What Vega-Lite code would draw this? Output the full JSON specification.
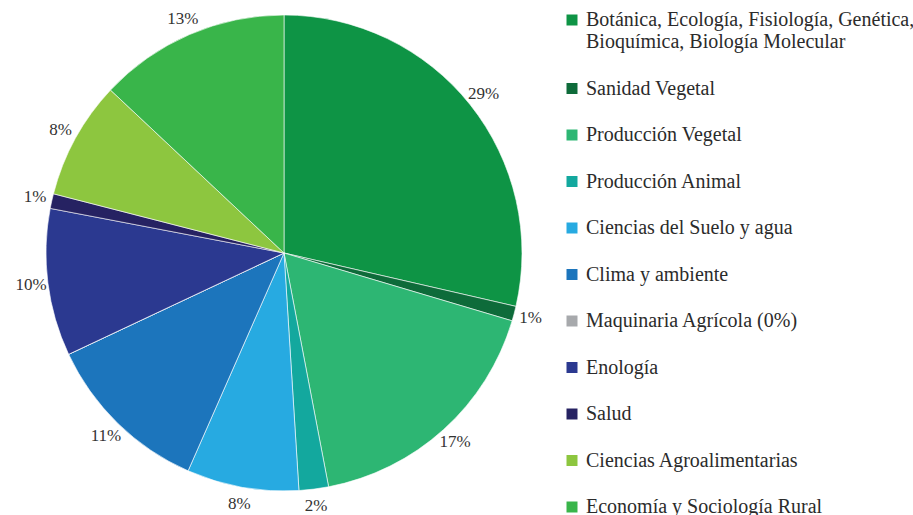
{
  "$schema": "https://vega.github.io/schema/vega-lite/v6.json",
  "width": 568,
  "height": 506,
  "padding": 0,
  "background": "white",
  "config": {"view": {"stroke": null}},
  "data": {
    "values": [
      {"k": 1, "cat": "Botánica, Ecología, Fisiología, Genética, Bioquímica, Biología Molecular", "v": 28.6, "lab": "29%"},
      {"k": 2, "cat": "Sanidad Vegetal", "v": 1.0, "lab": "1%"},
      {"k": 3, "cat": "Producción Vegetal", "v": 17.4, "lab": "17%"},
      {"k": 4, "cat": "Producción  Animal", "v": 2.0, "lab": "2%"},
      {"k": 5, "cat": "Ciencias del Suelo y agua", "v": 7.6, "lab": "8%"},
      {"k": 6, "cat": "Clima y ambiente", "v": 11.4, "lab": "11%"},
      {"k": 7, "cat": "Maquinaria Agrícola (0%)", "v": 0, "lab": "0%"},
      {"k": 8, "cat": "Enología", "v": 10.0, "lab": "10%"},
      {"k": 9, "cat": "Salud", "v": 1.0, "lab": "1%"},
      {"k": 10, "cat": "Ciencias Agroalimentarias", "v": 8.0, "lab": "8%"},
      {"k": 11, "cat": "Economía y Sociología Rural", "v": 13.0, "lab": "13%"}
    ]
  },
  "encoding": {
    "theta": {"field": "v", "type": "quantitative", "stack": true},
    "order": {"field": "k", "type": "quantitative"}
  },
  "layer": [
    {
      "mark": {"type": "arc", "outerRadius": 238, "stroke": "white", "strokeWidth": 0.6},
      "encoding": {
        "color": {
          "field": "cat",
          "type": "nominal",
          "scale": {
            "domain": [
              "Botánica, Ecología, Fisiología, Genética, Bioquímica, Biología Molecular",
              "Sanidad Vegetal",
              "Producción Vegetal",
              "Producción  Animal",
              "Ciencias del Suelo y agua",
              "Clima y ambiente",
              "Maquinaria Agrícola (0%)",
              "Enología",
              "Salud",
              "Ciencias Agroalimentarias",
              "Economía y Sociología Rural"
            ],
            "range": ["#0E9445", "#0E6B3A", "#2DB673", "#13A89E", "#27AAE1", "#1C75BC", "#A7A9AC", "#2B3990", "#262262", "#8DC63F", "#39B54A"]
          },
          "legend": {
            "orient": "none",
            "legendX": 562,
            "legendY": 10,
            "title": null,
            "symbolType": "square",
            "symbolSize": 121,
            "symbolStrokeWidth": 0,
            "labelFont": "Liberation Serif",
            "labelFontSize": 20,
            "labelColor": "#2b2b2b",
            "labelOffset": 4,
            "labelLimit": 400,
            "rowPadding": 26.5,
            "labelExpr": "indexof(datum.label, 'Botánica') == 0 ? ['Botánica, Ecología, Fisiología, Genética,', 'Bioquímica, Biología Molecular'] : datum.label"
          }
        }
      }
    },
    {
      "transform": [{"filter": "datum.v > 0"}],
      "mark": {"type": "text", "radius": 255, "fontSize": 17, "font": "Liberation Serif", "fill": "#333333"},
      "encoding": {"text": {"field": "lab", "type": "nominal"}}
    }
  ]
}
